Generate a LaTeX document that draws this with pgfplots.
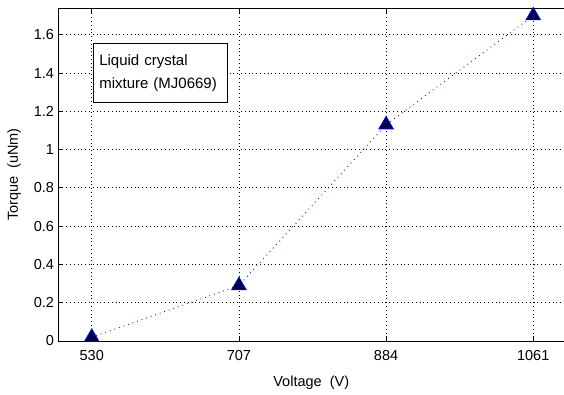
\documentclass[border=0pt]{standalone}
\usepackage{pgfplots}
\pgfplotsset{compat=1.18}
\usepackage{fontspec}
\setmainfont{Liberation Sans}
\definecolor{navyfill}{RGB}{0,0,80}
\definecolor{lineblue}{RGB}{0,0,255}
\begin{document}
\begin{tikzpicture}
\begin{axis}[
  at={(0,0)}, anchor=south west,
  scale only axis,
  width=505.5pt, height=333pt,
  xmin=490, xmax=1098,
  ymin=0, ymax=1.74,
  xtick={530,707,884,1061},
  ytick={0,0.2,0.4,0.6,0.8,1,1.2,1.4,1.6},
  xticklabel style={/pgf/number format/1000 sep={}, yshift=-6pt},
  yticklabel style={/pgf/number format/fixed, xshift=-1pt},
  /pgf/number format/assume math mode=true,
  ticklabel style={font=\fontsize{14.5}{16}\selectfont},
  label style={font=\fontsize{14.5}{16}\selectfont},
  tick align=inside,
  major tick length=5pt,
  tick style={black, line width=0.8pt},
  axis y line*=left,
  axis line style={black, line width=0.9pt},
  grid=major,
  major grid style={black, dash pattern=on 0.8pt off 3pt, line width=0.8pt},
  xlabel={Voltage\ \ (V)},
  ylabel={Torque\ \ (uNm)},
  xlabel style={yshift=-8pt},
  ylabel style={yshift=6pt},
  clip=false,
]
\addplot[lineblue, dash pattern=on 0.8pt off 4pt, line width=0.9pt,
  mark=triangle*, mark size=8.5pt,
  mark options={solid, fill=navyfill, draw=lineblue, line width=0.6pt}]
  coordinates {(530,0.02) (707,0.29) (884,1.13) (1061,1.70)};
\node[draw=black, line width=0.8pt, fill=white, anchor=north west,
  align=left, inner xsep=6pt, inner ysep=11pt, text width=122pt,
  font=\fontsize{15}{23}\selectfont]
  at (rel axis cs:0.068,0.895) {Liquid crystal\\mixture (MJ0669)};
\end{axis}
\pgfresetboundingbox
\path[use as bounding box] (-58.5pt,-53pt) rectangle (505.5pt,341pt);
\end{tikzpicture}
\end{document}
